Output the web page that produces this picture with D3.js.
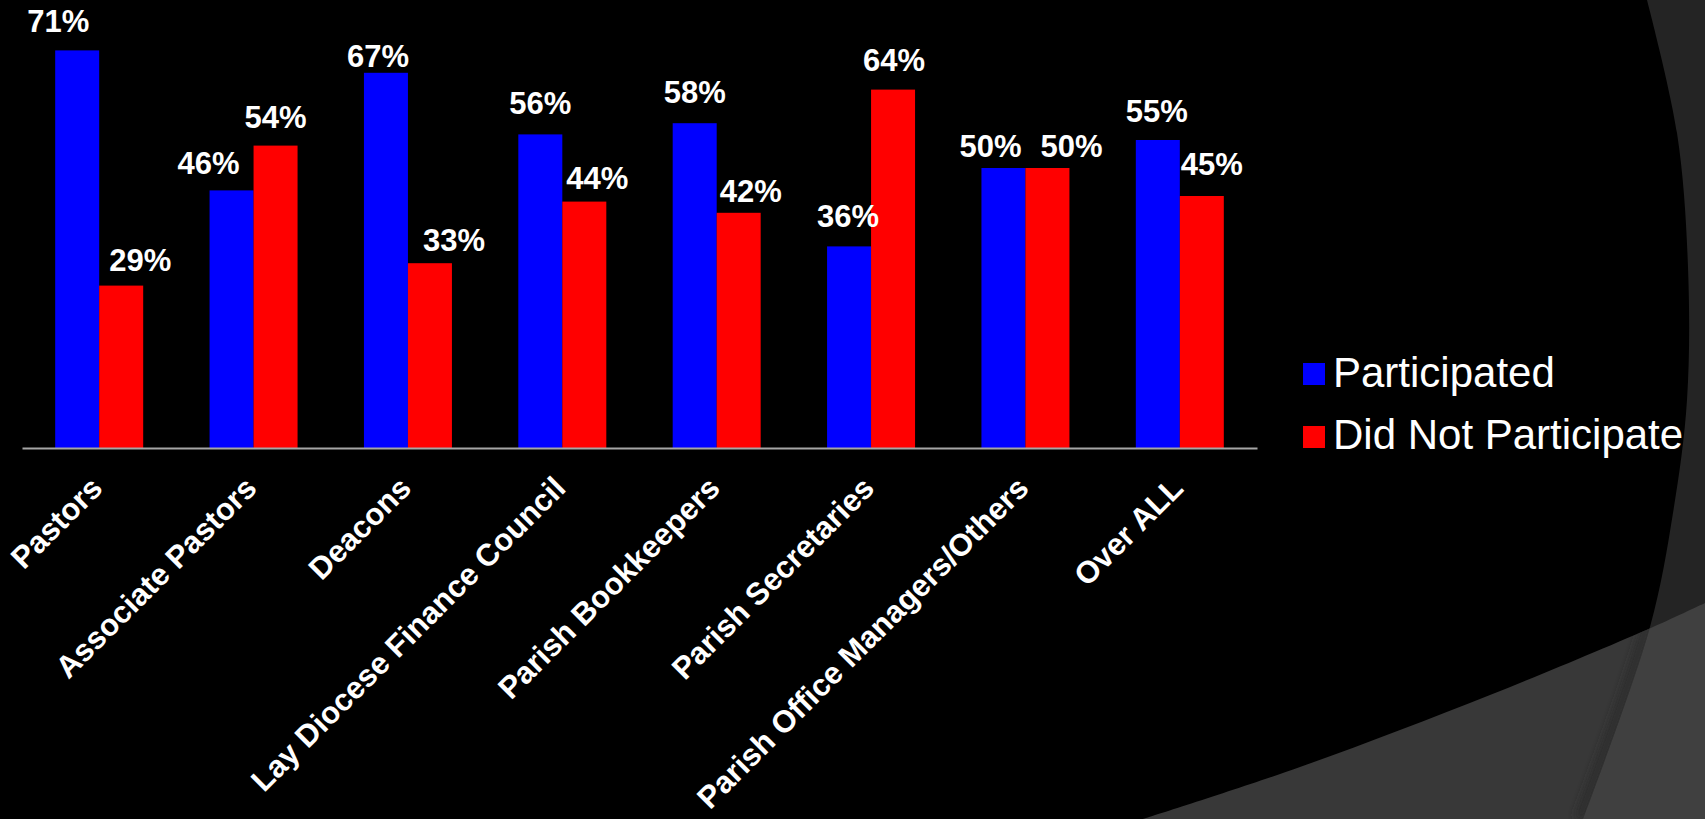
<!DOCTYPE html>
<html>
<head>
<meta charset="utf-8">
<script src="https://cdn.jsdelivr.net/npm/d3@7"></script>
<style>
  html, body { margin: 0; padding: 0; background: #000; overflow: hidden; }
  svg { display: block; }
  text { font-family: "Liberation Sans", Arial, Helvetica, sans-serif; }
</style>
</head>
<body>
<svg id="chart" width="1705" height="819"></svg>
<script>
// ---- data ----
const categories = ["Pastors", "Associate Pastors", "Deacons", "Lay Diocese Finance Council",
  "Parish Bookkeepers", "Parish Secretaries", "Parish Office Managers/Others", "Over ALL"];
const seriesNames = ["Participated", "Did Not Participate"];
const participated = [0.71, 0.46, 0.67, 0.56, 0.58, 0.36, 0.50, 0.55];
const didNotParticipate = [0.29, 0.54, 0.33, 0.44, 0.42, 0.64, 0.50, 0.45];
const yDomain = [0, 0.8];

// ---- layout / style ----
const W = 1705, H = 819;
const colors = ["#0000ff", "#ff0000"];
// per-label nudges [dx from bar centre, gap above bar top] as in the original slide
const nudge = [
  [[-19,18],[-23,16],[-8,6],[0,20],[0,20],[-1,19],[-13,11],[-1,18]],
  [[19,15],[0,18],[24,12],[13,13],[12,11],[1,19],[24,11],[10,21]]
];

const svg = d3.select("#chart");

// ---- background decoration (slide theme swooshes) ----
const defs = svg.append("defs");
const curve = d3.line().curve(d3.curveCatmullRom);
const lowerEdge = [[1143,819],[1300,767],[1490,695],[1653,627],[1705,603]];
const lowerPath = curve(lowerEdge) + "L1705,819Z";
const arcEdge = [[1647,0],[1677,133],[1688,267],[1687,400],[1673,513],[1650,627],[1583,819]];
const arcPath = curve(arcEdge) + "L1705,819L1705,0Z";
defs.append("clipPath").attr("id","lowerClip").append("path").attr("d", lowerPath);
defs.append("filter").attr("id","blur").append("feGaussianBlur").attr("stdDeviation", 4);

svg.append("rect").attr("width", W).attr("height", H).attr("fill", "#000");
svg.append("path").attr("d", lowerPath).attr("fill", "#383838");
svg.append("path").attr("d", arcPath).attr("fill", "#242424");
const lowerG = svg.append("g").attr("clip-path", "url(#lowerClip)");
lowerG.append("path").attr("d", curve(arcEdge.map(p => [p[0] - 4, p[1]])))
  .attr("fill", "none").attr("stroke", "#2a2a2a").attr("stroke-width", 8).attr("filter", "url(#blur)");
lowerG.append("path").attr("d", arcPath).attr("fill", "#404040");

// ---- scales ----
const x0 = d3.scaleBand().domain(categories).range([22, 1257]).padding(0);
const bw = x0.bandwidth();
const barFrac = 0.57;
const x1 = d3.scaleBand().domain(seriesNames)
  .range([bw * (1 - barFrac) / 2, bw * (1 + barFrac) / 2]).padding(0);
const y = d3.scaleLinear().domain(yDomain).range([448, 0]);

const seriesValues = [participated, didNotParticipate];

// ---- bars ----
const g = svg.append("g");
seriesNames.forEach((s, si) => {
  g.append("g").selectAll("rect")
    .data(seriesValues[si])
    .join("rect")
    .attr("x", (d, i) => x0(categories[i]) + x1(s))
    .attr("y", d => y(d))
    .attr("width", x1.bandwidth())
    .attr("height", d => y(0) - y(d))
    .attr("fill", colors[si]);
});

// ---- value labels ----
seriesNames.forEach((s, si) => {
  g.append("g").selectAll("text")
    .data(seriesValues[si])
    .join("text")
    .attr("x", (d, i) => x0(categories[i]) + x1(s) + x1.bandwidth() / 2 + nudge[si][i][0])
    .attr("y", (d, i) => y(d) - nudge[si][i][1])
    .attr("text-anchor", "middle")
    .attr("fill", "#fff")
    .attr("font-weight", "bold")
    .attr("font-size", "31px")
    .text(d => d3.format(".0%")(d));
});

// ---- x axis ----
const axis = svg.append("g")
  .attr("transform", `translate(0,${y(0)})`)
  .call(d3.axisBottom(x0).tickSize(0).tickSizeOuter(0));
axis.select(".domain").attr("stroke", "#a6a6a6").attr("stroke-width", 2);
axis.selectAll(".tick text")
  .attr("x", 0).attr("y", 0).attr("dy", 0)
  .attr("transform", "translate(5,42) rotate(-45)")
  .attr("text-anchor", "end")
  .attr("fill", "#fff")
  .attr("font-weight", "bold")
  .attr("font-size", "31px")
  .attr("font-family", "'Liberation Sans', Arial, sans-serif");

// ---- legend ----
const legend = svg.append("g");
seriesNames.forEach((s, i) => {
  legend.append("rect")
    .attr("x", 1303).attr("y", 363 + i * 63)
    .attr("width", 22).attr("height", 22)
    .attr("fill", colors[i]);
  legend.append("text")
    .attr("x", 1333).attr("y", 387 + i * 62)
    .attr("fill", "#fff")
    .attr("font-size", "42px")
    .text(s);
});
</script>
</body>
</html>
